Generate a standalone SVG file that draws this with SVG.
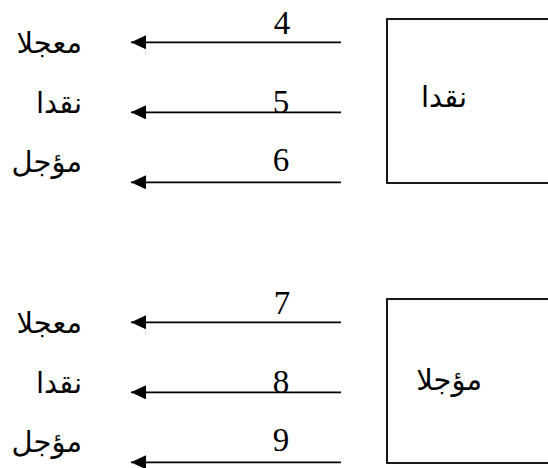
<svg xmlns="http://www.w3.org/2000/svg" width="548" height="468" viewBox="0 0 548 468">
<style>
.box{fill:#fff;stroke:#000;stroke-width:1.8}
.ln{stroke:#000;stroke-width:1.8;fill:none}
.ar{font-family:"DejaVu Sans","Liberation Sans",sans-serif;font-size:29px;fill:#000;text-anchor:end}
.num{font-family:"Liberation Serif","Times New Roman",serif;font-size:33px;fill:#000;text-anchor:middle}
</style>
<defs>
<marker id="ah" viewBox="0 0 15 14" refX="15" refY="7" markerWidth="15" markerHeight="14" markerUnits="userSpaceOnUse" orient="auto">
<path d="M0,0 L15,7 L0,14 z" fill="#000"/>
</marker>
</defs>
<rect width="548" height="468" fill="#fff"/>
<g id="node-top">
<rect class="box" x="387" y="19" width="170" height="164"/>
<text class="ar" x="467" y="107">نقدا</text>
</g>
<g id="node-bottom">
<rect class="box" x="387" y="299" width="170" height="164"/>
<text class="ar" x="482" y="390">مؤجلا</text>
</g>
<g id="labels-top">
<text class="ar" x="82" y="53">معجلا</text>
<text class="ar" x="82" y="113">نقدا</text>
<text class="ar" x="82" y="172">مؤجل</text>
</g>
<g id="labels-bottom">
<text class="ar" x="82" y="333">معجلا</text>
<text class="ar" x="82" y="393">نقدا</text>
<text class="ar" x="82" y="452">مؤجل</text>
</g>
<g id="connectors">
<line class="ln" x1="341" y1="42.3" x2="131" y2="42.3" marker-end="url(#ah)"/>
<line class="ln" x1="341" y1="112.3" x2="131" y2="112.3" marker-end="url(#ah)"/>
<line class="ln" x1="341" y1="182.3" x2="131" y2="182.3" marker-end="url(#ah)"/>
<line class="ln" x1="341" y1="322.3" x2="131" y2="322.3" marker-end="url(#ah)"/>
<line class="ln" x1="341" y1="392.3" x2="131" y2="392.3" marker-end="url(#ah)"/>
<line class="ln" x1="341" y1="462.3" x2="131" y2="462.3" marker-end="url(#ah)"/>
<text class="num" x="282" y="34">4</text>
<text class="num" x="281" y="113">5</text>
<text class="num" x="281" y="171">6</text>
<text class="num" x="282" y="314">7</text>
<text class="num" x="281" y="393">8</text>
<text class="num" x="281" y="451">9</text>
</g>
</svg>
